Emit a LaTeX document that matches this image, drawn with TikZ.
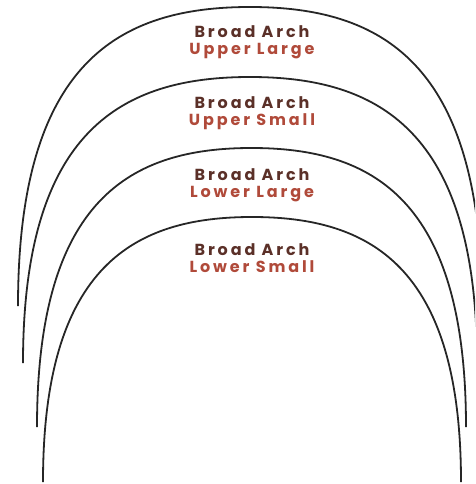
\documentclass[tikz,border=0pt]{standalone}
\usepackage{fontspec}
\setmainfont{Poppins}
\newfontfamily\archfont{Poppins}[LetterSpace=18]
\usepackage{xcolor}
\usepackage{tikz}
\usetikzlibrary{positioning}
\definecolor{archbrown}{HTML}{5B3028}
\definecolor{archred}{HTML}{B04A3A}
\tikzset{
  arch/.style={draw=black!85, line width=1.8pt},
  archlabel/.style={align=center, inner sep=0pt, font=\archfont\bfseries\fontsize{16}{17}\selectfont}
}

\begin{document}
\begin{tikzpicture}[x=1pt, y=-1pt]
  \useasboundingbox (0,0) rectangle (475,484);
  \clip (0,0) rectangle (475,484);

  \draw[arch] (18,306) .. controls (18,61) and (120,7) .. (250,7)
                       .. controls (380,7) and (482,61) .. (482,306);
  \draw[arch] (23,363) .. controls (23,129) and (123,77) .. (250,77)
                       .. controls (377,77) and (477,129) .. (477,363);
  \draw[arch] (37,427) .. controls (37,198) and (131.5,148) .. (251.5,148)
                       .. controls (371.5,148) and (466,198) .. (466,427);
  \draw[arch] (43,482) .. controls (43,265) and (135,217) .. (252,217)
                       .. controls (369,217) and (461,265) .. (461,482);

  \node[archlabel] (ul) at (252,42) {\textcolor{archbrown}{Broad Arch}\\ \textcolor{archred}{Upper Large}};
  \node[archlabel] (us) at (252,113) {\textcolor{archbrown}{Broad Arch}\\ \textcolor{archred}{Upper Small}};
  \node[archlabel] (ll) at (252,185) {\textcolor{archbrown}{Broad Arch}\\ \textcolor{archred}{Lower Large}};
  \node[archlabel] (ls) at (252,258) {\textcolor{archbrown}{Broad Arch}\\ \textcolor{archred}{Lower Small}};
\end{tikzpicture}
\end{document}
